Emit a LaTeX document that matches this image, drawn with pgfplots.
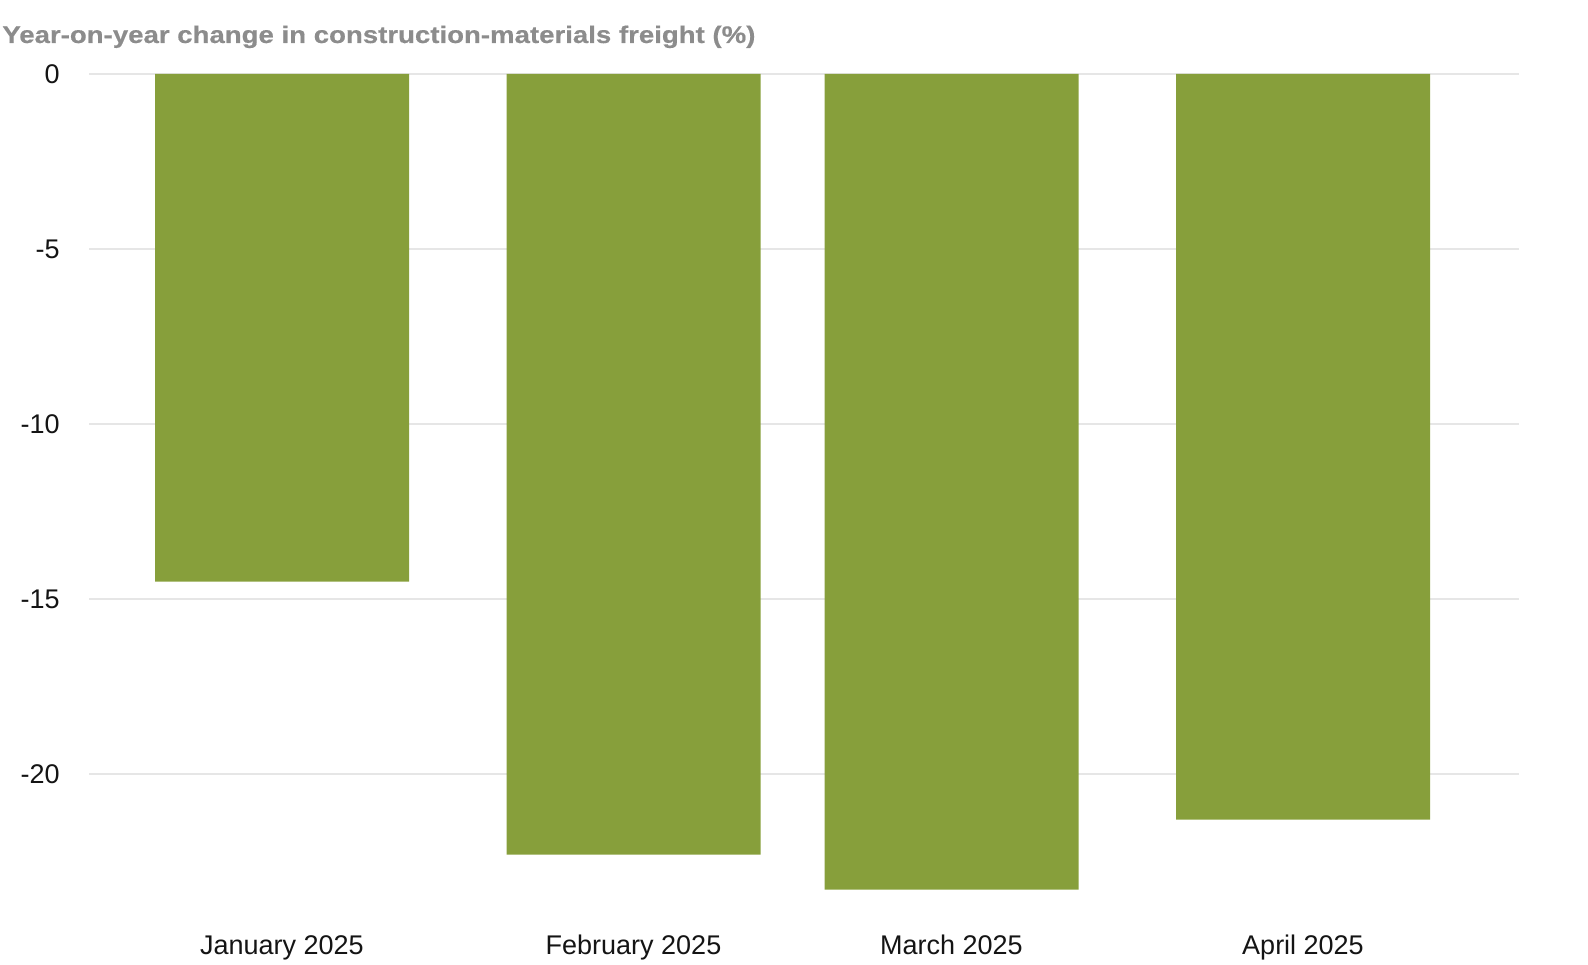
\documentclass[border=0pt]{standalone}
\usepackage{fontspec}
\setmainfont{Liberation Sans}
\newfontfamily\titlefont{Liberation Sans}[FakeStretch=1.15,FakeBold=0.5]
\usepackage{pgfplots}
\pgfplotsset{compat=1.18}
\definecolor{barc}{RGB}{135,159,59}
\definecolor{titlec}{RGB}{140,140,140}
\definecolor{gridc}{RGB}{230,230,230}
\definecolor{labc}{RGB}{20,20,20}
\begin{document}
\begin{tikzpicture}
\path[use as bounding box] (0,0) rectangle (794pt,482pt);
\node[anchor=base west, inner sep=0pt, text=titlec] at (1pt,460.5pt)
  {\fontsize{12}{14}\titlefont\bfseries Year-on-year change in construction-materials freight (\%)};
\begin{axis}[
  at={(44.5pt,25pt)}, anchor=south west,
  scale only axis, width=715pt, height=420pt,
  xmin=0.89, xmax=15.19, ymin=-24, ymax=0,
  clip=false,
  axis line style={draw=none},
  major tick length=0pt,
  ymajorgrids, grid style={draw=gridc, line width=0.6pt},
  ytick={-20,-15,-10,-5,0},
  yticklabels={-20,-15,-10,-5,0},
  yticklabel style={anchor=east, inner sep=0pt, xshift=-14.5pt, text=labc, font=\fontsize{13.5}{16}\selectfont},
  xtick={2.82,6.335,9.515,13.03},
  xticklabels={January 2025,February 2025,March 2025,April 2025},
  xticklabel style={anchor=base, inner sep=0pt, yshift=-20pt, text=labc, font=\fontsize{13.5}{16}\selectfont},
  ybar, bar width=2.54,
]
\addplot[draw=none, fill=barc] coordinates {(2.82,-14.5) (6.335,-22.3) (9.515,-23.3) (13.03,-21.3)};
\end{axis}
\end{tikzpicture}
\end{document}
